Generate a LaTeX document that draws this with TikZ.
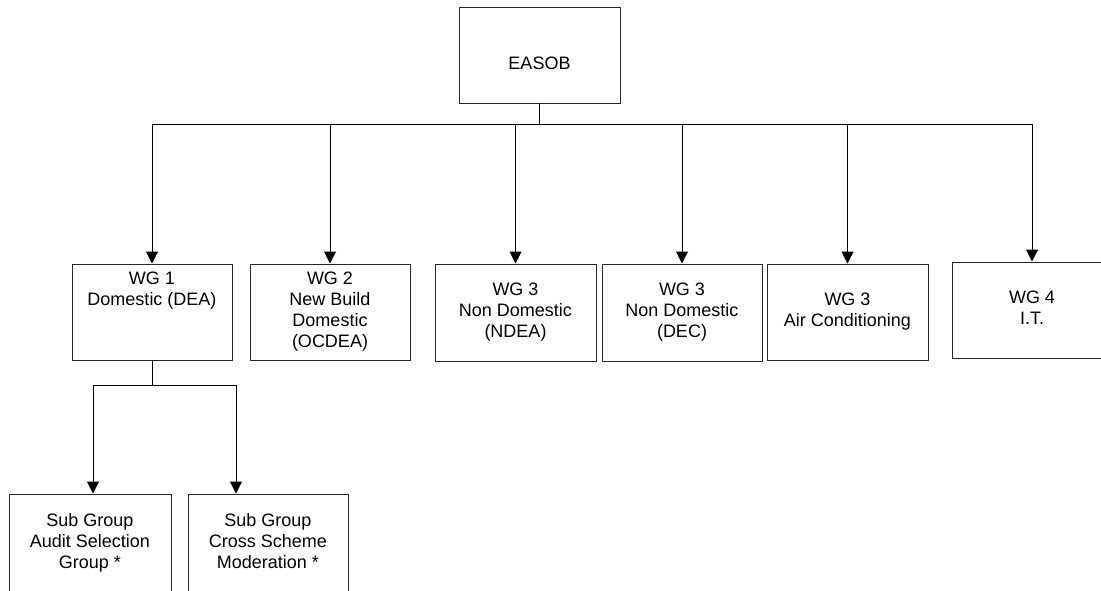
\documentclass[tikz,border=0pt]{standalone}
\usepackage{fontspec}
\setmainfont{Liberation Sans}
\usetikzlibrary{arrows.meta,calc}
\begin{document}
\begin{tikzpicture}[x=1pt,y=-1pt,
  box/.style={draw=black!85,line width=1pt,align=center,inner sep=0pt,
    font=\fontsize{18}{21}\selectfont,minimum width=160pt,minimum height=96pt},
  arr/.style={draw=black,line width=1pt,-{Triangle[width=12pt,length=12pt]}},
  ln/.style={draw=black,line width=1pt}]
\useasboundingbox (0,0) rectangle (1101,590);
\clip (0,0) rectangle (1101,590);
\fill[white] (0,0) rectangle (1101,590);
\node[box,minimum width=161pt] (E) at (539.5,55) {\strut\\EASOB\strut};
\node[box] (W1) at (152,312) {\strut WG 1\\Domestic (DEA)\\\strut\\\strut};
\node[box] (W2) at (330,312) {\strut WG 2\\New Build\\Domestic\\(OCDEA)\strut};
\node[box,minimum width=161pt,minimum height=97pt] (W3a) at (515.5,312.5) {\strut WG 3\\Non Domestic\\(NDEA)\strut};
\node[box,minimum height=97pt] (W3b) at (682,312.5) {\strut WG 3\\Non Domestic\\(DEC)\strut};
\node[box,minimum width=161pt] (W3c) at (847.5,312) {\strut WG 3\\Air Conditioning\strut};
\node[box] (W4) at (1032,310) {\strut WG 4\\I.T.\strut};
\node[box,minimum width=162pt,minimum height=98pt] (S1) at (90,543) {\strut Sub Group\\Audit Selection\\Group *\strut};
\node[box,minimum height=98pt] (S2) at (268,543) {\strut Sub Group\\Cross Scheme\\Moderation *\strut};
\coordinate (bus) at (539.5,124);
\coordinate (sbus) at (152,385);
\foreach \n in {W1,W2,W3a,W3b,W3c,W4}{
  \draw[arr] (E.south) |- (bus) -| (\n.north);
}
\draw[arr] (W1.south) |- (sbus) -| ($(S1.north)+(3,0)$);
\draw[arr] (W1.south) |- (sbus) -| ($(S2.north)+(-32,0)$);
\end{tikzpicture}
\end{document}
